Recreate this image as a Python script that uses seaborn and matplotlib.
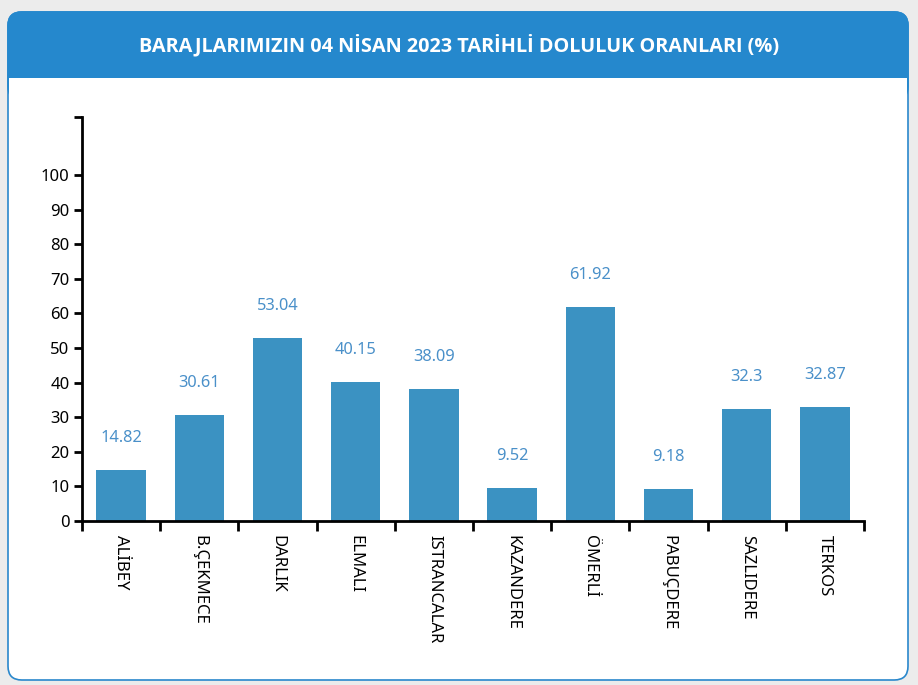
import matplotlib
matplotlib.use('Agg')
import matplotlib.pyplot as plt
from matplotlib.patches import FancyBboxPatch, Rectangle
from matplotlib.ticker import NullLocator
import seaborn as sns
import pandas as pd

# ── Veriler ───────────────────────────────────────────────────────
barajlar = ['ALİBEY', 'B.ÇEKMECE', 'DARLIK', 'ELMALI', 'ISTRANCALAR',
            'KAZANDERE', 'ÖMERLİ', 'PABUÇDERE', 'SAZLIDERE', 'TERKOS']
doluluk = [14.82, 30.61, 53.04, 40.15, 38.09, 9.52, 61.92, 9.18, 32.3, 32.87]
y_ticks = [0, 10, 20, 30, 40, 50, 60, 70, 80, 90, 100]
baslik = 'BARAJLARIMIZIN 04 NİSAN 2023 TARİHLİ DOLULUK ORANLARI (%)'

df = pd.DataFrame({'baraj': barajlar, 'oran': doluluk})

sns.set_style('white')
plt.rcParams['font.family'] = ['Noto Sans', 'DejaVu Sans']
plt.rcParams['xtick.color'] = 'black'
plt.rcParams['ytick.color'] = 'black'

W, H = 918, 685
fig = plt.figure(figsize=(W / 100, H / 100), dpi=100)
fig.patch.set_facecolor('#ececec')

# ── Kart + başlık bandı ──────────────────────────────────────────
def fx(x): return x / W
def fy(y): return 1 - y / H

card = FancyBboxPatch((fx(8), fy(680)), fx(900), 668 / H,
                      boxstyle='round,pad=0,rounding_size=0.015',
                      transform=fig.transFigure, facecolor='white',
                      edgecolor='#2a88cc', linewidth=1.2, zorder=0,
                      mutation_aspect=W / H)
fig.patches.append(card)
head = FancyBboxPatch((fx(8), fy(100)), fx(900), 88 / H,
                      boxstyle='round,pad=0,rounding_size=0.015',
                      transform=fig.transFigure, facecolor='#2588cd',
                      edgecolor='#2588cd', linewidth=1.2, zorder=1,
                      mutation_aspect=W / H)
fig.patches.append(head)
fig.patches.append(Rectangle((fx(9), fy(103)), fx(898), 25 / H,
                             transform=fig.transFigure, facecolor='white',
                             edgecolor='none', zorder=2))
fig.text(0.5, fy(45), baslik, color='white', fontsize=14.3,
         fontweight='bold', family=['Open Sans', 'DejaVu Sans'],
         ha='center', va='center', zorder=3)

# ── Grafik ───────────────────────────────────────────────────────
ax = fig.add_axes([fx(82), fy(521), fx(782), 404 / H])
ax.set_zorder(5)
ax.set_facecolor('none')
sns.barplot(data=df, x='baraj', y='oran', color='#3b92c2', width=0.63,
            saturation=1, linewidth=0, ax=ax)

for i, v in enumerate(doluluk):
    ax.text(i, v + 9.2, f'{v:g}', ha='center', va='center',
            color='#4a90c9', fontsize=11.8)

ax.set_xlim(-0.5, len(barajlar) - 0.5)
ax.set_ylim(0, 116.8)
ax.set_xlabel('')
ax.set_ylabel('')
ax.set_yticks(y_ticks + [116.8])
ax.set_yticklabels([str(t) for t in y_ticks] + [''])
ax.yaxis.set_minor_locator(NullLocator())
ax.set_xticks(range(len(barajlar)))
ax.set_xticklabels(barajlar, rotation=-90, fontsize=12)
ax.set_xticks([i - 0.5 for i in range(len(barajlar) + 1)], minor=True)
ax.tick_params(axis='x', which='major', bottom=True, length=0, pad=10,
               labelcolor='black')
ax.tick_params(axis='x', which='minor', bottom=True, length=7, width=2,
               color='black')
ax.tick_params(axis='y', which='major', left=True, length=6, width=2,
               color='black', labelcolor='black', labelsize=12, pad=3)

sns.despine(ax=ax)
for s in ['left', 'bottom']:
    ax.spines[s].set_linewidth(2)
    ax.spines[s].set_color('black')

plt.savefig('out.png', dpi=100, facecolor=fig.get_facecolor())
plt.close()
